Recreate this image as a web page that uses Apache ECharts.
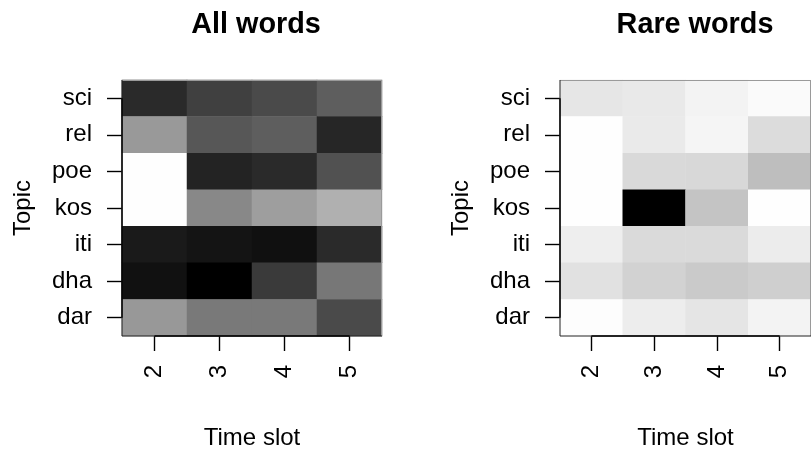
<!DOCTYPE html>
<html>
<head>
<meta charset="utf-8">
<script src="https://cdn.jsdelivr.net/npm/echarts@6/dist/echarts.min.js"></script>
<style>
html,body{margin:0;padding:0;background:#fff;}
#chart{width:811px;height:455px;}
</style>
</head>
<body>
<div id="chart"></div>
<script>
// Categories
const timeSlots = ['2', '3', '4', '5'];
const topics = ['sci', 'rel', 'poe', 'kos', 'iti', 'dha', 'dar']; // top to bottom
const panelTitles = ['All words', 'Rare words'];
const xAxisTitle = 'Time slot';
const yAxisTitle = 'Topic';

// Grey level of each cell (0 = black, 255 = white), rows follow `topics`, columns follow `timeSlots`
const allWordsShade = [
  [42, 64, 74, 94],
  [153, 87, 94, 38],
  [254, 35, 42, 81],
  [254, 136, 158, 176],
  [26, 20, 16, 42],
  [17, 0, 58, 119],
  [152, 121, 121, 74]
];
const rareWordsShade = [
  [230, 233, 243, 250],
  [254, 234, 245, 220],
  [254, 217, 216, 190],
  [254, 0, 196, 254],
  [238, 218, 218, 236],
  [225, 210, 202, 207],
  [253, 237, 229, 243]
];

const FONT = 'Liberation Sans, Arial, Helvetica, sans-serif';

function toCells(matrix) {
  const out = [];
  matrix.forEach((row, r) => row.forEach((v, c) => out.push([c, r, v])));
  return out;
}

function cellRender(params, api) {
  const c = api.coord([api.value(0), api.value(1)]);
  const s = api.size([1, 1]);
  const g = api.value(2);
  return {
    type: 'rect',
    shape: { x: c[0] - s[0] / 2 - 0.25, y: c[1] - s[1] / 2 - 0.25, width: s[0] + 0.5, height: s[1] + 0.5 },
    style: { fill: 'rgb(' + g + ',' + g + ',' + g + ')' }
  };
}

function frameRender(params, api) {
  const cs = params.coordSys;
  const x0 = cs.x, y0 = cs.y, x1 = cs.x + cs.width, y1 = cs.y + cs.height;
  const first = api.coord([0, 0]);
  const lastX = api.coord([timeSlots.length - 1, 0]);
  const lastY = api.coord([0, topics.length - 1]);
  return {
    type: 'group',
    children: [
      { type: 'line', shape: { x1: x0, y1: y0 + 0.5, x2: x1, y2: y0 + 0.5 }, style: { stroke: '#9a9a9a', lineWidth: 1 } },
      { type: 'line', shape: { x1: x1 - 0.5, y1: y0, x2: x1 - 0.5, y2: y1 }, style: { stroke: '#9a9a9a', lineWidth: 1 } },
      { type: 'line', shape: { x1: x0, y1: y1, x2: x1, y2: y1 }, style: { stroke: '#222', lineWidth: 1 } },
      { type: 'line', shape: { x1: x0, y1: y0, x2: x0, y2: y1 }, style: { stroke: '#222', lineWidth: 1 } },
      // axis lines spanning first to last tick
      { type: 'line', shape: { x1: x0, y1: first[1], x2: x0, y2: lastY[1] }, style: { stroke: '#000', lineWidth: 1.4 } },
      { type: 'line', shape: { x1: first[0], y1: y1, x2: lastX[0], y2: y1 }, style: { stroke: '#000', lineWidth: 1.4 } }
    ]
  };
}

const gridPos = [
  { left: 122, top: 80, width: 260, height: 257 },
  { left: 560, top: 80, width: 260, height: 257 }
];
const titleCenters = [251, 690];

function xAxisFor(i) {
  return {
    type: 'category', gridIndex: i, data: timeSlots, boundaryGap: true,
    axisLine: { show: false },
    axisTick: { show: true, alignWithLabel: true, interval: 0, length: 15, lineStyle: { color: '#000', width: 1.4 } },
    axisLabel: { interval: 0, rotate: 90, margin: 29, color: '#000', fontSize: 24, fontFamily: FONT },
    splitLine: { show: false },
    name: xAxisTitle, nameLocation: 'middle', nameGap: 90,
    nameTextStyle: { color: '#000', fontSize: 24, fontFamily: FONT }
  };
}
function yAxisFor(i) {
  return {
    type: 'category', gridIndex: i, data: topics, inverse: true, boundaryGap: true,
    axisLine: { show: false },
    axisTick: { show: true, alignWithLabel: true, interval: 0, length: 15, lineStyle: { color: '#000', width: 1.4 } },
    axisLabel: { interval: 0, margin: 30, color: '#000', fontSize: 24, fontFamily: FONT },
    splitLine: { show: false },
    name: yAxisTitle, nameLocation: 'middle', nameGap: 87, nameRotate: 90,
    nameTextStyle: { color: '#000', fontSize: 24, fontFamily: FONT }
  };
}

const matrices = [allWordsShade, rareWordsShade];
const series = [];
matrices.forEach((m, i) => {
  series.push({ type: 'custom', xAxisIndex: i, yAxisIndex: i, data: toCells(m), renderItem: cellRender, silent: true, z: 1 });
  series.push({ type: 'custom', xAxisIndex: i, yAxisIndex: i, data: [[0, 0]], renderItem: frameRender, silent: true, z: 3 });
});

const chart = echarts.init(document.getElementById('chart'), null, { renderer: 'canvas' });
chart.setOption({
  animation: false,
  backgroundColor: '#fff',
  title: panelTitles.map((t, i) => ({
    text: t, left: titleCenters[i], top: 6, textAlign: 'center',
    textStyle: { fontSize: 28.8, fontWeight: 'bold', color: '#000', fontFamily: FONT }
  })),
  grid: gridPos,
  xAxis: [xAxisFor(0), xAxisFor(1)],
  yAxis: [yAxisFor(0), yAxisFor(1)],
  series: series
});
</script>
</body>
</html>
